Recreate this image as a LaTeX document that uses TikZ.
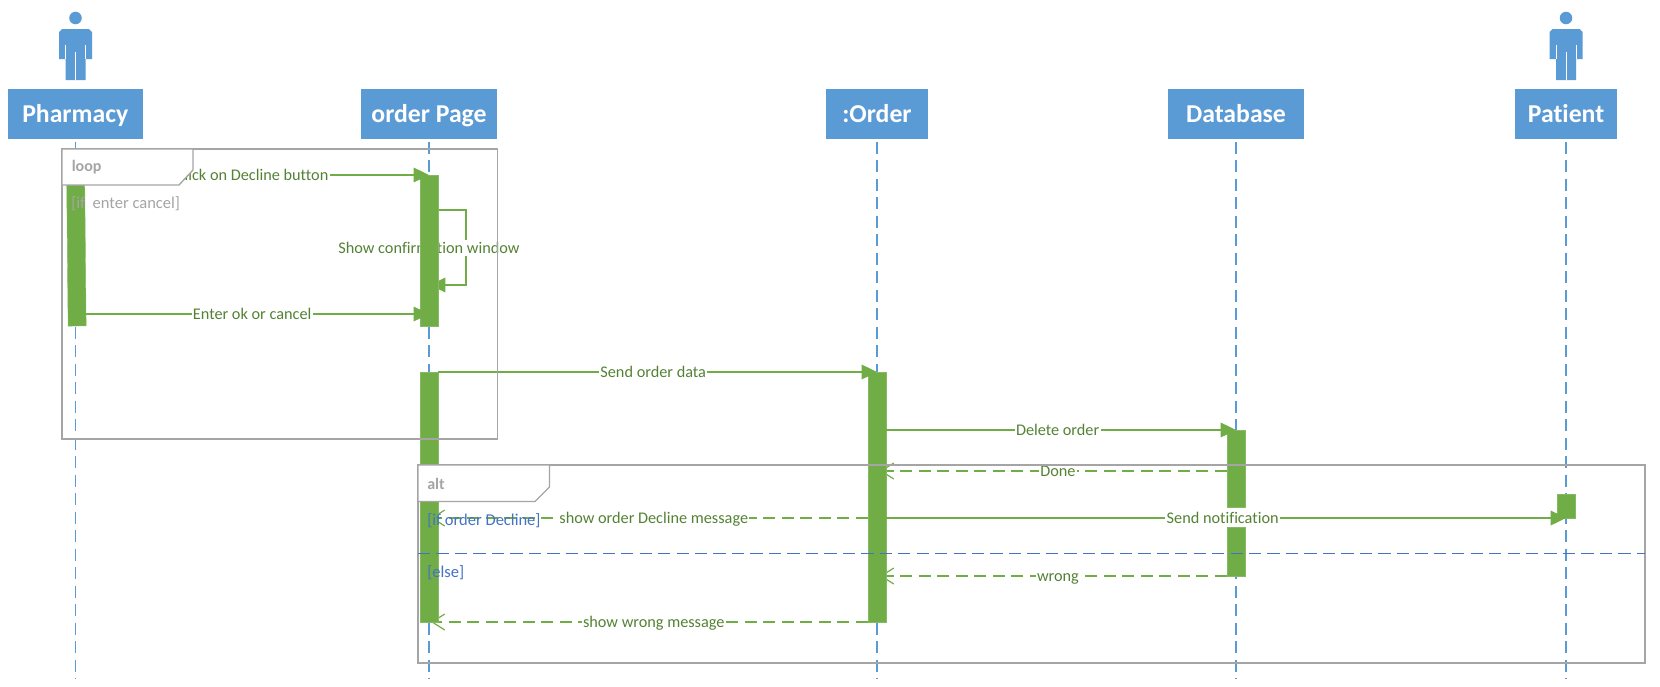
\documentclass[tikz,border=0pt]{standalone}
\usepackage{fontspec}
\setmainfont[Ligatures=NoCommon]{Carlito}
\usetikzlibrary{arrows.meta,backgrounds}
\definecolor{hblue}{HTML}{5B9BD5}
\definecolor{bgreen}{HTML}{70AD47}
\definecolor{tgreen}{HTML}{548235}
\definecolor{fgrey}{HTML}{A5A5A5}
\definecolor{dblue}{HTML}{4472C4}
\tikzset{
  header/.style={fill=hblue,inner sep=0pt,minimum height=37.9pt,text=white,text height=13.4pt,text depth=1.4pt,font=\fontsize{19.3}{22}\selectfont\bfseries},
  lifeline/.style={draw=hblue,line width=.9pt,dash pattern=on 9pt off 4.875pt},
  bar/.style={fill=bgreen,draw=bgreen!85!white,line width=.3pt,inner sep=0pt,minimum width=13.5pt},
  msg/.style={draw=bgreen,line width=.9pt,-{Triangle[length=11.5pt,width=11pt,fill=bgreen]}},
  ret/.style={draw=bgreen,line width=.9pt,dash pattern=on 9pt off 4.875pt,-{Straight Barb[length=9.5pt,width=12pt,line width=.9pt]}},
  lbl/.style={fill=white,text=tgreen,inner xsep=1pt,inner ysep=1.5pt,text height=8.8pt,text depth=0pt,font=\fontsize{12.2}{14}\selectfont},
  frame/.style={draw=fgrey,line width=1pt},
  tab/.style={draw=fgrey,fill=white,line width=1pt},
  ftitle/.style={text=fgrey,inner sep=0pt,font=\fontsize{12}{14}\selectfont\bfseries,anchor=west},
  gloop/.style={text=fgrey,inner sep=0pt,font=\fontsize{12.4}{14}\selectfont,anchor=west},
  galt/.style={text=dblue,inner sep=0pt,font=\fontsize{12.4}{14}\selectfont,anchor=west},
  actorfig/.pic={
    \fill[hblue] (0,18) circle[radius=4.7pt];
    \fill[hblue] (-13.5,29) -- (13.5,29) -- (16.5,32) -- (16.5,59) -- (10,59) -- (10,80) -- (-10,80) -- (-10,59) -- (-16.5,59) -- (-16.5,32) -- cycle;
    \draw[white,line width=.7pt] (-10,45) -- (-10,59) (10,45) -- (10,59) (0,52) -- (0,80);
  }
}
\begin{document}
\begin{tikzpicture}[x=.75pt,y=-.75pt]
% actors
\pic at (75.5,0) {actorfig};
\pic at (1566,0) {actorfig};
% headers
\node[header,minimum width=101.6pt] (h1) at (75.25,114) {Pharmacy};
\node[header,minimum width=101.6pt] (h2) at (429,114) {order Page};
\node[header,minimum width=77pt] (h3) at (877,114) {:Order};
\node[header,minimum width=101.6pt] (h4) at (1236,114) {Database};
\node[header,minimum width=77pt] (h5) at (1566,114) {Patient};
% activation bars
\path
  node[bar,minimum height=109.5pt,rotate=.57] (pb) at (76.4,253) {}
  node[bar,minimum height=113.25pt] (ob1) at (429,250.5) {}
  node[bar,minimum height=187.9pt] (ob2) at (429,497.3) {}
  node[bar,minimum height=187.9pt] (rb) at (877,497.3) {}
  node[bar,minimum height=57.75pt] (db1) at (1236,468.5) {}
  node[bar,minimum height=36.4pt] (db2) at (1236,551.8) {}
  node[bar,minimum height=18pt] (pab) at (1566,506) {};
% lifelines and connectors that pass beneath the bars
\begin{scope}[on background layer]
\path[fill=white] (0,0) rectangle (1660,686);
\foreach \h in {h1,h2,h3,h4,h5}{
  \draw[lifeline] (\h.south) ++(0,2) -- (\h.south |- 0,679);
}
\draw[msg] (ob1.east |- 0,210) -- (466,210) -- (466,285) -- (430,285);
\node[lbl] (lself) at (ob1.center |- 0,248) {Show confirmation window};
\draw[ret] (db1.west |- 0,471) -- node[lbl,pos=.487] (ldone) {Done} (880,471);
\draw[ret] (db2.west |- 0,576) -- node[lbl,pos=.487] (lwrong) {wrong} (880,576);
\draw[ret] (rb.west |- 0,518) -- node[lbl,pos=.49] (ldec) {show order Decline message} (431,518);
\draw[ret] (rb.west |- 0,622) -- node[lbl,pos=.49] (lshow) {show wrong message} (431,622);
\end{scope}
% solid calls
\draw[msg] (pb.east |- 0,175) -- node[lbl,pos=.485] (lclick) {Click on Decline button} (ob1.center |- 0,175);
\draw[msg] (pb.east |- 0,314) -- node[lbl,pos=.485] (lok) {Enter ok or cancel} (ob1.center |- 0,314);
\draw[msg] (ob2.east |- 0,372) -- node[lbl,pos=.49] (lsend) {Send order data} (rb.center |- 0,372);
\draw[msg] (rb.east |- 0,430) -- node[lbl,pos=.49] (ldel) {Delete order} (db1.center |- 0,430);
\draw[msg] (rb.east |- 0,518) -- node[lbl,pos=.495] (lnot) {Send notification} (pab.center |- 0,518);
% loop frame
\draw[frame] (62,149) rectangle (497.5,439);
\draw[tab] (62,149) -- (193,149) -- (193,170) -- (179,185) -- (62,185) -- cycle;
\node[ftitle] (tloop) at (71.5,167) {loop};
\node[gloop] (gl) at (71,204) {[if\ \ enter cancel]};
% alt frame
\draw[frame] (418,465) rectangle (1645,663);
\draw[tab] (418,465) -- (549.5,465) -- (549.5,487) -- (535,501.5) -- (418,501.5) -- cycle;
\node[ftitle] (talt) at (427,484) {alt};
\draw[draw=dblue,line width=1pt,dash pattern=on 9.25pt off 4.6pt] (418,553.7) -- (1645,553.7);
\node[galt] (g1) at (427,520.5) {[if order Decline]};
\node[galt] (g2) at (427,572.5) {[else]};
\useasboundingbox (0,0) rectangle (1660,686);
\end{tikzpicture}
\end{document}
